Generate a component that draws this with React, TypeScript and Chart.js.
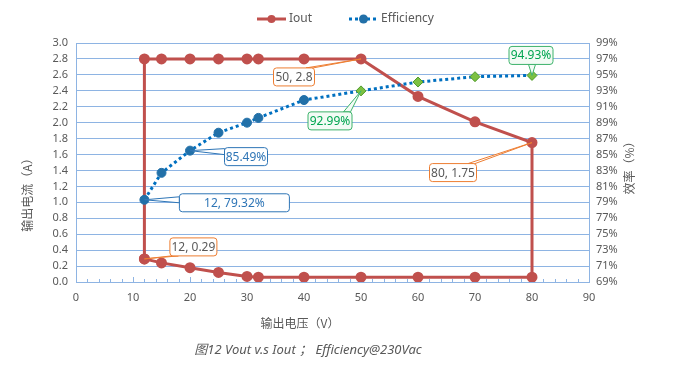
import React, { useEffect, useRef } from "react";
import { Chart, registerables } from "chart.js";

Chart.register(...registerables);

// ---- data ----
const ioutUpperV = [12, 15, 20, 25, 30, 32, 40, 50, 60, 70, 80];
const ioutUpperA = [2.8, 2.8, 2.8, 2.8, 2.8, 2.8, 2.8, 2.8, 2.33, 2.01, 1.75];
const ioutLowerV = [80, 70, 60, 50, 40, 32, 30, 25, 20, 15, 12];
const ioutLowerA = [0.06, 0.06, 0.06, 0.06, 0.06, 0.06, 0.07, 0.12, 0.18, 0.24, 0.29];
const effV = [12, 15, 20, 25, 30, 32, 40, 50, 60, 70, 80];
const effPct = [79.32, 82.7, 85.49, 87.74, 89.0, 89.6, 91.84, 92.99, 94.1, 94.77, 94.93];

const xTitle = "输出电压（V）";
const yTitle = "输出电流（A）";
const y1Title = "效率（%）";
const caption = "图12 Vout v.s Iout ； Efficiency@230Vac";

const RED = "#C0504D";
const BLUE_LINE = "#0070C0";
const BLUE_PT = "#2270A8";
const GREEN_FILL = "#7DC142";
const GREEN_BORDER = "#4E9A2A";
const GRID = "#8EB4E3";
const TXT = "#595959";
const FONT = "'Noto Sans', 'Noto Sans CJK SC', sans-serif";

// ioutPoints: closed loop, upper curve then lower return
const ioutPoints = [
  { x: ioutLowerV[ioutLowerV.length - 1], y: ioutLowerA[ioutLowerA.length - 1] },
  ...ioutUpperV.map((v, i) => ({ x: v, y: ioutUpperA[i] })),
  ...ioutLowerV.map((v, i) => ({ x: v, y: ioutLowerA[i] })),
];
const effPoints = effV.map((v, i) => ({ x: v, y: effPct[i] }));

// callouts: [datasetIndex, pointIndex, text, dx, dy, w, kind]
const callouts: [number, number, string, number, number, number, string][] = [
  [1, 0, "12, 0.29", 49, -12, 47, "orange"],
  [1, 8, "50, 2.8", -67, 18, 41, "orange"],
  [1, 11, "80, 1.75", -79, 30, 47, "orange"],
  [0, 0, "12, 79.32%", 90, 3, 110, "blue"],
  [0, 2, "85.49%", 56, 6, 43, "blue"],
  [0, 7, "92.99%", -31, 30, 44, "green"],
  [0, 10, "94.93%", -1, -20, 44, "green"],
];

const kindStyle: Record<string, { border: string; text: string; fill: string }> = {
  orange: { border: "#ED7D31", text: TXT, fill: "#FFFFFF" },
  blue: { border: "#2E75B6", text: "#2E75B6", fill: "#FFFFFF" },
  green: { border: "#3DB36B", text: "#00A550", fill: "#F3FBF5" },
};

const decorPlugin = {
  id: "decor",
  beforeDatasetsDraw(chart: any) {
    const { ctx, chartArea } = chart;
    const xs = chart.scales.x;
    ctx.save();
    ctx.strokeStyle = GRID;
    ctx.lineWidth = 1;
    // top border
    ctx.beginPath();
    ctx.moveTo(chartArea.left, chartArea.top + 0.5);
    ctx.lineTo(chartArea.right, chartArea.top + 0.5);
    ctx.stroke();
    // inward minor ticks on x axis
    for (let v = 0; v <= 90; v += 2) {
      const px = Math.round(xs.getPixelForValue(v)) + 0.5;
      const len = v % 10 === 0 ? 5 : 3;
      ctx.beginPath();
      ctx.moveTo(px, chartArea.bottom);
      ctx.lineTo(px, chartArea.bottom - len);
      ctx.stroke();
    }
    ctx.restore();
  },
  afterDatasetsDraw(chart: any) {
    const { ctx } = chart;
    ctx.save();
    ctx.font = `12px ${FONT}`;
    ctx.textAlign = "center";
    ctx.textBaseline = "middle";
    for (const [di, pi, text, dx, dy, w, kind] of callouts) {
      const el = chart.getDatasetMeta(di).data[pi];
      if (!el) continue;
      const px = el.x;
      const py = el.y;
      const cx = px + dx;
      const cy = py + dy;
      const h = 18;
      const l = cx - w / 2, r = cx + w / 2, t = cy - h / 2, b = cy + h / 2;
      const st = kindStyle[kind];
      // leader wedge
      let b1: [number, number], b2: [number, number];
      if (py >= t && py <= b) {
        const ex = px < l ? l : r;
        const yy = Math.min(Math.max(py, t + 4), b - 4);
        b1 = [ex, yy - 3];
        b2 = [ex, yy + 3];
      } else {
        const ey = py < t ? t : b;
        const xx = Math.min(Math.max(px, l + 5), r - 5);
        b1 = [xx - 3.5, ey];
        b2 = [xx + 3.5, ey];
      }
      ctx.beginPath();
      ctx.moveTo(b1[0], b1[1]);
      ctx.lineTo(px, py);
      ctx.lineTo(b2[0], b2[1]);
      ctx.closePath();
      ctx.fillStyle = st.fill;
      ctx.fill();
      ctx.strokeStyle = st.border;
      ctx.lineWidth = 1;
      ctx.stroke();
      // box
      ctx.beginPath();
      (ctx as any).roundRect(l, t, w, h, 3);
      ctx.fillStyle = st.fill;
      ctx.fill();
      ctx.stroke();
      ctx.fillStyle = st.text;
      ctx.fillText(text, cx, cy + 0.5);
    }
    ctx.restore();
  },
  afterDraw(chart: any) {
    const { ctx } = chart;
    ctx.save();
    // legend
    ctx.strokeStyle = RED;
    ctx.lineWidth = 3;
    ctx.beginPath();
    ctx.moveTo(257, 19);
    ctx.lineTo(286, 19);
    ctx.stroke();
    ctx.fillStyle = RED;
    ctx.beginPath();
    ctx.arc(271.5, 19, 4, 0, Math.PI * 2);
    ctx.fill();
    ctx.strokeStyle = BLUE_LINE;
    ctx.setLineDash([3, 3]);
    ctx.beginPath();
    ctx.moveTo(349, 19);
    ctx.lineTo(379, 19);
    ctx.stroke();
    ctx.setLineDash([]);
    ctx.fillStyle = BLUE_PT;
    ctx.beginPath();
    ctx.arc(363.5, 19, 4.5, 0, Math.PI * 2);
    ctx.fill();
    ctx.fillStyle = TXT;
    ctx.font = `12px ${FONT}`;
    ctx.textAlign = "left";
    ctx.textBaseline = "middle";
    ctx.fillText("Iout", 289, 19);
    ctx.fillText("Efficiency", 381, 19);
    // axis titles
    ctx.font = `12px 'Noto Sans CJK SC', sans-serif`;
    ctx.textAlign = "center";
    ctx.fillText(xTitle, 300, 323);
    ctx.save();
    ctx.translate(27, 192);
    ctx.rotate(-Math.PI / 2);
    ctx.fillText(yTitle, 0, 0);
    ctx.restore();
    ctx.save();
    ctx.translate(629, 165);
    ctx.rotate(-Math.PI / 2);
    ctx.fillText(y1Title, 0, 0);
    ctx.restore();
    // caption
    ctx.font = `italic 13px 'Noto Sans', 'Noto Sans CJK SC', sans-serif`;
    ctx.fillText(caption, 308, 350);
    ctx.restore();
  },
};

export default function App() {
  const ref = useRef<HTMLCanvasElement>(null);
  useEffect(() => {
    if (!ref.current) return;
    const chart = new Chart(ref.current, {
      type: "scatter",
      data: {
        datasets: [
          {
            label: "Efficiency",
            data: effPoints,
            yAxisID: "y1",
            showLine: true,
            borderColor: BLUE_LINE,
            borderWidth: 3,
            borderDash: [3, 3],
            pointStyle: effPoints.map((_, i) => (i >= 7 ? "rectRot" : "circle")) as any,
            pointRadius: effPoints.map((_, i) => (i >= 7 ? 5 : 4.5)),
            pointBackgroundColor: effPoints.map((_, i) => (i >= 7 ? GREEN_FILL : BLUE_PT)),
            pointBorderColor: effPoints.map((_, i) => (i >= 7 ? GREEN_BORDER : BLUE_PT)),
            pointBorderWidth: 1,
            order: 0,
          } as any,
          {
            label: "Iout",
            data: ioutPoints,
            yAxisID: "y",
            showLine: true,
            borderColor: RED,
            borderWidth: 3,
            pointRadius: 4,
            pointBackgroundColor: RED,
            pointBorderColor: RED,
            order: 1,
          } as any,
        ],
      },
      options: {
        responsive: false,
        animation: false,
        layout: { padding: { top: 43, left: 0, right: 0, bottom: 0 } },
        plugins: { legend: { display: false }, tooltip: { enabled: false } },
        scales: {
          x: {
            type: "linear",
            min: 0,
            max: 90,
            ticks: { stepSize: 10, autoSkip: false, color: TXT, font: { size: 11, family: FONT }, padding: 1 },
            grid: { display: false },
            border: { color: GRID },
            afterFit: (s: any) => { s.height = 95; },
          },
          y: {
            position: "left",
            min: 0,
            max: 3,
            ticks: {
              stepSize: 0.2,
              autoSkip: false,
              color: TXT,
              font: { size: 11, family: FONT },
              padding: 8,
              callback: (v: any) => Number(v).toFixed(1),
            },
            grid: { color: GRID, drawTicks: false },
            border: { color: GRID },
            afterFit: (s: any) => { s.width = 76; },
          },
          y1: {
            position: "right",
            min: 69,
            max: 99,
            ticks: {
              stepSize: 2,
              autoSkip: false,
              color: TXT,
              font: { size: 11, family: FONT },
              padding: 7,
              callback: (v: any) => `${Math.round(Number(v))}%`,
            },
            grid: { display: false, drawTicks: false },
            border: { color: GRID },
            afterFit: (s: any) => { s.width = 86; },
          },
        },
      } as any,
      plugins: [decorPlugin],
    });
    return () => chart.destroy();
  }, []);
  return (
    <div style={{ position: "absolute", left: 0, top: 0, width: 675, height: 377, background: "#fff" }}>
      <canvas ref={ref} width={675} height={377} style={{ display: "block" }} />
    </div>
  );
}
